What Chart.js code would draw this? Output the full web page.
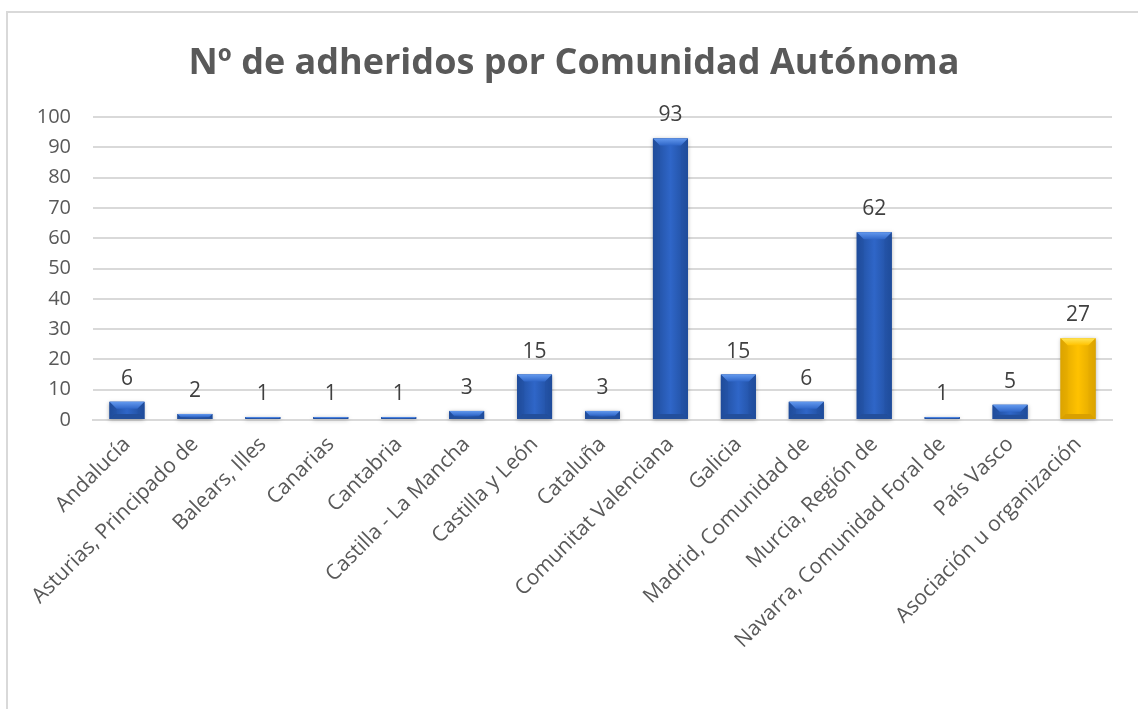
<!DOCTYPE html>
<html lang="es">
<head>
<meta charset="utf-8">
<title>Adheridos por Comunidad Autónoma</title>
<script src="https://cdn.jsdelivr.net/npm/chart.js@4.4.1/dist/chart.umd.min.js"></script>
<style>
  html, body { margin: 0; padding: 0; background: #fff; overflow: hidden; }
  #marco {
    position: absolute; left: 6px; top: 11px;
    width: 1200px; height: 800px;
    border: 2px solid #d9d9d9; box-sizing: border-box;
  }
  #grafico { position: absolute; left: 0; top: 0; }
</style>
</head>
<body>
<div id="marco"></div>
<canvas id="grafico" width="1138" height="709"></canvas>
<script>
// Datos del gráfico
const categorias = [
  "Andalucía", "Asturias, Principado de", "Balears, Illes", "Canarias", "Cantabria",
  "Castilla - La Mancha", "Castilla y León", "Cataluña", "Comunitat Valenciana", "Galicia",
  "Madrid, Comunidad de", "Murcia, Región de", "Navarra, Comunidad Foral de", "País Vasco",
  "Asociación u organización"
];
const adheridos = [6, 2, 1, 1, 1, 3, 15, 3, 93, 15, 6, 62, 1, 5, 27];
const destacados = ["Asociación u organización"];
const ejeY = { min: 0, max: 100, paso: 10 };

const FUENTE = "'Open Sans', 'DejaVu Sans', sans-serif";

const azul = { borde: "#1f4c9a", medio: "#2f66c8", claro: "#6399ee", oscuro: "#234f9c" };
const oro = { borde: "#dca400", medio: "#ffc200", claro: "#ffe456", oscuro: "#d9a000" };
const paleta = categorias.map(c => destacados.includes(c) ? oro : azul);

// Barras con efecto biselado (dibujado sobre la geometría de cada barra)
const biselPlugin = {
  id: "bisel",
  afterDatasetsDraw(chart) {
    const ctx = chart.ctx;
    const meta = chart.getDatasetMeta(0);
    meta.data.forEach((bar, i) => {
      const p = bar.getProps(["x", "y", "base", "width"], true);
      const c = paleta[i];
      const l = p.x - p.width / 2, r = p.x + p.width / 2;
      const t = Math.min(p.y, p.base), b = Math.max(p.y, p.base);
      const h = b - t;
      if (h <= 0) return;
      const s = Math.min(7, h * 0.6, p.width / 4);
      const sb = Math.min(5, h * 0.3, p.width / 5);

      ctx.save();
      // sombra suave
      ctx.shadowColor = "rgba(0,0,0,0.3)";
      ctx.shadowBlur = 4;
      ctx.shadowOffsetY = 1;
      const g = ctx.createLinearGradient(l, 0, r, 0);
      g.addColorStop(0, c.borde);
      g.addColorStop(0.5, c.medio);
      g.addColorStop(1, c.borde);
      ctx.fillStyle = g;
      ctx.fillRect(l, t, p.width, h);
      ctx.shadowColor = "transparent";

      // bisel superior
      const gs = ctx.createLinearGradient(0, t, 0, t + s);
      gs.addColorStop(0, c.claro);
      gs.addColorStop(1, c.medio);
      ctx.beginPath();
      ctx.moveTo(l, t); ctx.lineTo(r, t); ctx.lineTo(r - s, t + s); ctx.lineTo(l + s, t + s);
      ctx.closePath();
      ctx.fillStyle = gs;
      ctx.fill();

      // bisel inferior
      ctx.beginPath();
      ctx.moveTo(l, b); ctx.lineTo(r, b); ctx.lineTo(r - sb, b - sb); ctx.lineTo(l + sb, b - sb);
      ctx.closePath();
      ctx.fillStyle = c.oscuro;
      ctx.fill();

      // laterales
      ctx.globalAlpha = 0.25;
      ctx.fillStyle = c.borde;
      ctx.beginPath();
      ctx.moveTo(l, t); ctx.lineTo(l + s, t + s); ctx.lineTo(l + s, b - sb); ctx.lineTo(l, b);
      ctx.closePath(); ctx.fill();
      ctx.beginPath();
      ctx.moveTo(r, t); ctx.lineTo(r - s, t + s); ctx.lineTo(r - s, b - sb); ctx.lineTo(r, b);
      ctx.closePath(); ctx.fill();
      ctx.restore();
    });
  }
};

// Etiquetas de valor encima de cada barra
const etiquetasPlugin = {
  id: "etiquetas",
  afterDatasetsDraw(chart) {
    const ctx = chart.ctx;
    const meta = chart.getDatasetMeta(0);
    ctx.save();
    ctx.font = "21px " + FUENTE;
    ctx.fillStyle = "#404040";
    ctx.textAlign = "center";
    ctx.textBaseline = "alphabetic";
    meta.data.forEach((bar, i) => {
      ctx.fillText(String(adheridos[i]), bar.x, bar.y - 17);
    });
    ctx.restore();
  }
};

new Chart(document.getElementById("grafico"), {
  type: "bar",
  data: {
    labels: categorias,
    datasets: [{
      data: adheridos,
      backgroundColor: paleta.map(c => c.medio),
      borderWidth: 0,
      categoryPercentage: 1,
      barPercentage: 0.515
    }]
  },
  options: {
    responsive: false,
    animation: false,
    layout: { padding: { left: 36, right: 26, top: 0, bottom: 0 } },
    plugins: {
      legend: { display: false },
      tooltip: { enabled: false },
      title: {
        display: true,
        text: "Nº de adheridos por Comunidad Autónoma",
        color: "#595959",
        font: { family: FUENTE, size: 36, weight: "bold" },
        padding: { top: 42, bottom: 32 }
      }
    },
    scales: {
      x: {
        grid: { display: false },
        border: { display: true, color: "#d9d9d9", width: 2 },
        ticks: {
          color: "#595959",
          font: { family: FUENTE, size: 21 },
          minRotation: 45,
          maxRotation: 45,
          autoSkip: false,
          padding: 4
        },
        afterFit(scale) { scale.height = 289; }
      },
      y: {
        min: ejeY.min,
        max: ejeY.max,
        ticks: {
          stepSize: ejeY.paso,
          color: "#595959",
          font: { family: FUENTE, size: 20 },
          padding: 22
        },
        grid: { color: "#d9d9d9", lineWidth: 2, drawTicks: false },
        border: { display: false },
        afterFit(scale) { scale.width = 57; }
      }
    }
  },
  plugins: [biselPlugin, etiquetasPlugin]
});
</script>
</body>
</html>
